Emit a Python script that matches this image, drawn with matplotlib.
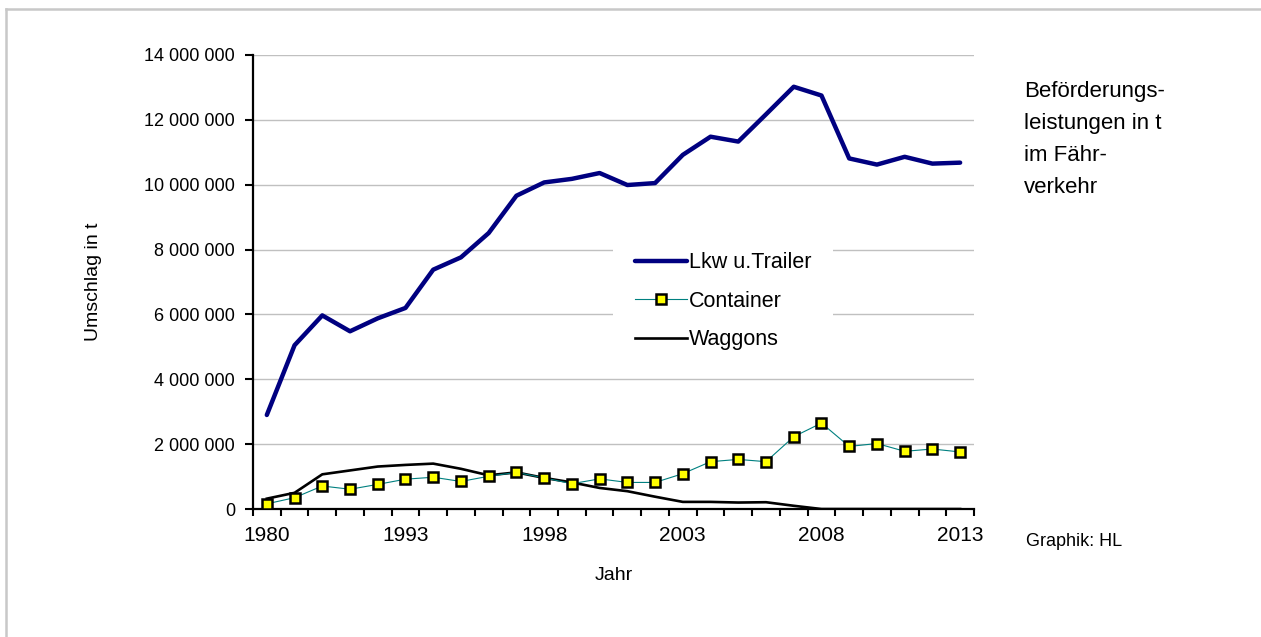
import matplotlib.pyplot as plt
from matplotlib.lines import Line2D
from matplotlib.ticker import FuncFormatter

plt.rcParams['font.family'] = ['Liberation Sans', 'DejaVu Sans']

# Kategorien (Jahre) - nur jedes 5. Jahr beschriftet
jahre = [1980, 1985, 1990, 1991, 1992, 1993, 1994, 1995, 1996, 1997, 1998,
         1999, 2000, 2001, 2002, 2003, 2004, 2005, 2006, 2007, 2008, 2009,
         2010, 2011, 2012, 2013]
beschriftet = [1980, 1993, 1998, 2003, 2008, 2013]

# Werte in Mio. t
lkw = [2.90, 5.05, 5.97, 5.48, 5.88, 6.20, 7.38, 7.76, 8.51, 9.66, 10.07,
       10.18, 10.36, 9.99, 10.05, 10.92, 11.48, 11.33, 12.17, 13.02, 12.75,
       10.81, 10.62, 10.86, 10.65, 10.68]
container = [0.16, 0.35, 0.71, 0.61, 0.76, 0.92, 0.98, 0.85, 1.01, 1.13,
             0.96, 0.78, 0.93, 0.82, 0.82, 1.09, 1.46, 1.53, 1.46, 2.23,
             2.65, 1.93, 2.02, 1.78, 1.85, 1.76]
waggons = [0.32, 0.50, 1.07, 1.19, 1.31, 1.36, 1.40, 1.24, 1.04, 1.13,
           0.96, 0.82, 0.65, 0.55, 0.38, 0.22, 0.22, 0.20, 0.21, 0.10,
           0.0, 0.0, 0.0, 0.0, 0.0, 0.0]

lkw = [v * 1e6 for v in lkw]
container = [v * 1e6 for v in container]
waggons = [v * 1e6 for v in waggons]
x = list(range(len(jahre)))

fig = plt.figure(figsize=(12.61, 6.37), dpi=100)
ax = fig.add_axes([0.2006, 0.2009, 0.5718, 0.7128])

# Rahmen (nur oben und links sichtbar)
fig.add_artist(Line2D([6 / 1261, 6 / 1261], [0, 1 - 9 / 637],
                      color="#c8c8c8", lw=1.8))
fig.add_artist(Line2D([6 / 1261, 1], [1 - 9 / 637, 1 - 9 / 637],
                      color="#c8c8c8", lw=1.8))

ax.plot(x, lkw, color="#000080", lw=3.2, label="Lkw u.Trailer",
        solid_capstyle="round", zorder=4)
ax.plot(x, container, color="#008080", lw=0.8, marker="s", markersize=7,
        markerfacecolor="#ffff00", markeredgecolor="black",
        markeredgewidth=1.8, label="Container", zorder=3)
ax.plot(x, waggons, color="black", lw=1.9, label="Waggons", zorder=2)

ax.set_xlim(-0.5, len(jahre) - 0.5)
ax.set_ylim(0, 14e6)
ax.set_yticks(range(0, 14000001, 2000000))
ax.yaxis.set_major_formatter(
    FuncFormatter(lambda v, p: f"{int(v):,}".replace(",", " ")))
ax.grid(axis="y", color="#c0c0c0", lw=1)
ax.set_axisbelow(True)

ax.set_xticks([i - 0.5 for i in range(len(jahre) + 1)])
ax.set_xticklabels([])
ax.set_xticks([jahre.index(j) for j in beschriftet], minor=True)
ax.set_xticklabels([str(j) for j in beschriftet], minor=True)
ax.tick_params(axis="x", which="major", direction="out", length=5, width=1.5)
ax.tick_params(axis="x", which="minor", length=0, pad=12, labelsize=15)
ax.tick_params(axis="y", direction="out", length=6, width=1.5, pad=7,
               labelsize=13)

for s in ["top", "right"]:
    ax.spines[s].set_visible(False)
for s in ["left", "bottom"]:
    ax.spines[s].set_linewidth(1.6)

ax.set_ylabel("Umschlag in t", fontsize=14, labelpad=30)
ax.set_xlabel("Jahr", fontsize=14, labelpad=16)

leg = ax.legend(loc="upper left", bbox_to_anchor=(0.50, 0.613), frameon=True,
                fontsize=15.5, handlelength=2.4, handletextpad=0.1,
                labelspacing=0.81, borderpad=1.0, borderaxespad=0)
leg.get_frame().set_edgecolor("none")
leg.get_frame().set_facecolor("white")
leg.get_frame().set_alpha(1)

fig.text(1024 / 1261, 1 - 81 / 637,
         "Beförderungs-\nleistungen in t\nim Fähr-\nverkehr",
         fontsize=16, va="top", ha="left", linespacing=1.68)
fig.text(1026 / 1261, 1 - 541 / 637, "Graphik: HL", fontsize=13,
         va="center", ha="left")

fig.savefig("out.png", dpi=100)
